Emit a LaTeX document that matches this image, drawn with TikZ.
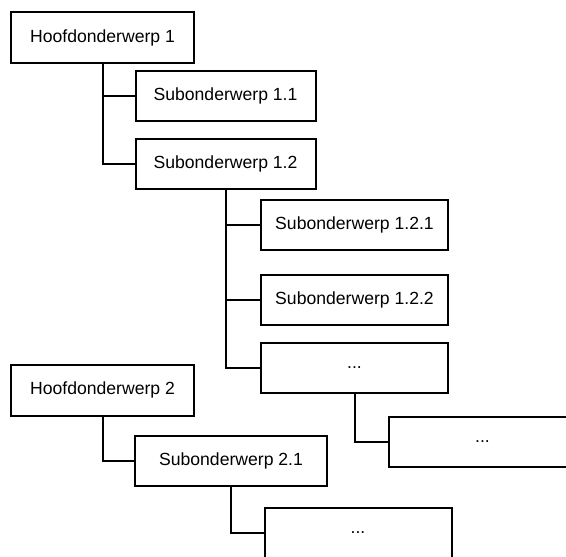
\documentclass[tikz,border=0pt]{standalone}
\usepackage{fontspec}
\setmainfont{Liberation Sans}
\begin{document}
\begin{tikzpicture}[x=1pt,y=-1pt,
  topic/.style={draw, line width=2pt, rectangle, minimum height=50pt,
    inner sep=0pt, font=\fontsize{17.6}{20}\selectfont},
  hoofd/.style={topic, minimum width=183pt, minimum height=51pt},
  sub/.style={topic, minimum width=180pt},
  subsub/.style={topic, minimum width=187pt},
  link/.style={line width=2pt}]
  \clip (0,0) rectangle (566,557);
  \fill[white] (0,0) rectangle (566,557);

  % first main topic and its branch
  \node[hoofd]  (h1)   at (102.5,37.5) {Hoofdonderwerp 1};
  \node[sub]    (s11)  at (225.5,96)   {Subonderwerp 1.1};
  \node[sub]    (s12)  at (225.5,164)  {Subonderwerp 1.2};
  \node[subsub] (s121) at (354.5,224.5){Subonderwerp 1.2.1};
  \node[subsub] (s122) at (354.5,300)  {Subonderwerp 1.2.2};
  \node[subsub] (s12x) at (354.5,368)  {...};
  \node[subsub] (s12xx) at (482.5,441.5) {...};

  % second main topic
  \node[hoofd]  (h2)   at (102.5,390)  {Hoofdonderwerp 2};
  \node[sub, minimum width=192pt] (s21) at (231,461) {Subonderwerp 2.1};
  \node[subsub] (s21x) at (358,533)    {...};

  % tree connectors
  \draw[link] (h1.south) |- (s11.west);
  \draw[link] (h1.south) |- (s12.west);
  \draw[link] (s12.south) |- (s121.west);
  \draw[link] (s12.south) |- (s122.west);
  \draw[link] (s12.south) |- (s12x.west);
  \draw[link] (s12x.south) |- (s12xx.west);
  \draw[link] (h2.south) |- (s21.west);
  \draw[link] (s21.south) |- (s21x.west);
\end{tikzpicture}
\end{document}
